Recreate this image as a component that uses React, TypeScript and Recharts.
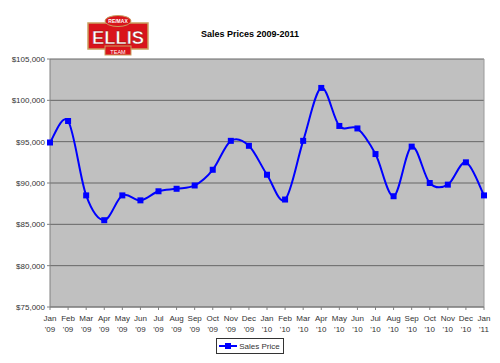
import { LineChart, Line, XAxis, YAxis, CartesianGrid, Legend, ReferenceLine } from 'recharts';

const MONTHS = ['Jan', 'Feb', 'Mar', 'Apr', 'May', 'Jun', 'Jul', 'Aug', 'Sep', 'Oct', 'Nov', 'Dec',
  'Jan', 'Feb', 'Mar', 'Apr', 'May', 'Jun', 'Jul', 'Aug', 'Sep', 'Oct', 'Nov', 'Dec', 'Jan'];
const YEARS = ["'09", "'09", "'09", "'09", "'09", "'09", "'09", "'09", "'09", "'09", "'09", "'09",
  "'10", "'10", "'10", "'10", "'10", "'10", "'10", "'10", "'10", "'10", "'10", "'10", "'11"];
const SALES_PRICE = [94900, 97500, 88500, 85500, 88500, 87900, 89000, 89300, 89700, 91600, 95100, 94500,
  91000, 88000, 95100, 101500, 96900, 96600, 93500, 88400, 94400, 90000, 89800, 92500, 88500];
const Y_TICKS = [75000, 80000, 85000, 90000, 95000, 100000, 105000];

const data = MONTHS.map((m, i) => ({ label: `${m} ${YEARS[i]}`, price: SALES_PRICE[i] }));

const FONT = '"Liberation Sans", Arial, sans-serif';

// excel-style smoothed line (catmull-rom bezier)
const smoothCurve = (context: any) => {
  let pts: number[][] = [];
  return {
    areaStart() {},
    areaEnd() {},
    lineStart() { pts = []; },
    point(x: number, y: number) { pts.push([+x, +y]); },
    lineEnd() {
      if (!pts.length) return;
      context.moveTo(pts[0][0], pts[0][1]);
      for (let i = 0; i < pts.length - 1; i++) {
        const p0 = pts[Math.max(i - 1, 0)];
        const p1 = pts[i];
        const p2 = pts[i + 1];
        const p3 = pts[Math.min(i + 2, pts.length - 1)];
        context.bezierCurveTo(
          p1[0] + (p2[0] - p0[0]) / 6, p1[1] + (p2[1] - p0[1]) / 6,
          p2[0] - (p3[0] - p1[0]) / 6, p2[1] - (p3[1] - p1[1]) / 6,
          p2[0], p2[1]
        );
      }
    },
  };
};

const MonthTick = (props: any) => {
  const { x, y, payload } = props;
  const [m, yr] = String(payload.value).split(' ');
  return (
    <g transform={`translate(${x},${y})`}>
      <text x={0} y={9} textAnchor="middle" fontSize={8} fill="#333" fontFamily={FONT}>{m}</text>
      <text x={0} y={20} textAnchor="middle" fontSize={8} fill="#333" fontFamily={FONT}>{yr}</text>
    </g>
  );
};

const SquareDot = (props: any) => {
  const { cx, cy, index } = props;
  if (cx == null || cy == null) return null;
  return <rect key={`d-${index}`} x={cx - 3} y={cy - 3} width={6} height={6} fill="#0000ff" />;
};

const LegendBox = () => (
  <div style={{ display: 'flex', justifyContent: 'center' }}>
    <div style={{
      border: '1px solid #333', background: '#fff', height: 14, padding: '0 3px 0 2px',
      display: 'flex', alignItems: 'center', fontFamily: FONT, fontSize: 8, color: '#333',
    }}>
      <svg width={18} height={8} style={{ marginRight: 2 }}>
        <line x1={0} y1={4} x2={18} y2={4} stroke="#0000ff" strokeWidth={2} />
        <rect x={6} y={1} width={6} height={6} fill="#0000ff" />
      </svg>
      Sales Price
    </div>
  </div>
);

const Logo = () => (
  <svg width={64} height={44} style={{ position: 'absolute', left: 86, top: 13 }}>
    <rect x={2} y={10} width={60} height={26} fill="#d9141b" stroke="#c8a060" strokeWidth={1.5} />
    <rect x={19} y={33} width={26} height={9} fill="#d9141b" stroke="#c8a060" strokeWidth={1} />
    <ellipse cx={32} cy={8} rx={13} ry={5.5} fill="#d9141b" stroke="#c8a060" strokeWidth={1} />
    <text x={32} y={10} textAnchor="middle" fontSize={5} fontWeight="bold" fill="#fff" fontFamily={FONT}>RE/MAX</text>
    <text x={32} y={31} textAnchor="middle" fontSize={18} fontWeight="bold" fill="#fff" fontFamily={FONT}
      stroke="#8a0a0a" strokeWidth={0.4} textLength={52} lengthAdjust="spacingAndGlyphs">ELLIS</text>
    <text x={32} y={40.5} textAnchor="middle" fontSize={5.5} fill="#fff" fontFamily={FONT}>TEAM</text>
  </svg>
);

export default function App() {
  return (
    <div style={{ position: 'absolute', left: 0, top: 0, width: 500, height: 363, background: '#fff' }}>
      <Logo />
      <div style={{
        position: 'absolute', left: 0, width: 500, top: 29, textAlign: 'center',
        fontFamily: FONT, fontSize: 9, fontWeight: 'bold', color: '#000',
      }}>
        Sales Prices 2009-2011
      </div>
      <LineChart width={500} height={363} data={data} margin={{ top: 59, right: 16, bottom: 28, left: 0 }}>
        <CartesianGrid vertical={false} stroke="#666" fill="#c0c0c0" fillOpacity={1} />
        <XAxis
          dataKey="label"
          interval={0}
          tick={<MonthTick />}
          tickLine={{ stroke: '#808080' }}
          tickSize={3}
          axisLine={{ stroke: '#808080' }}
          height={28}
        />
        <YAxis
          domain={[75000, 105000]}
          ticks={Y_TICKS}
          tickFormatter={(v: number) => `$${v.toLocaleString('en-US')}`}
          tick={{ fontSize: 8, fill: '#333', fontFamily: FONT }}
          tickLine={{ stroke: '#808080' }}
          tickSize={3}
          axisLine={{ stroke: '#808080' }}
          width={50}
          interval={0}
        />
        <ReferenceLine x={data[data.length - 1].label} stroke="#9a9a9a" />
        <Legend
          verticalAlign="middle"
          align="center"
          wrapperStyle={{ top: 338, left: 0, width: 500 }}
          content={<LegendBox />}
        />
        <Line
          type={smoothCurve as any}
          dataKey="price"
          name="Sales Price"
          stroke="#0000ff"
          strokeWidth={2}
          dot={<SquareDot />}
          activeDot={false}
          isAnimationActive={false}
        />
      </LineChart>
    </div>
  );
}
